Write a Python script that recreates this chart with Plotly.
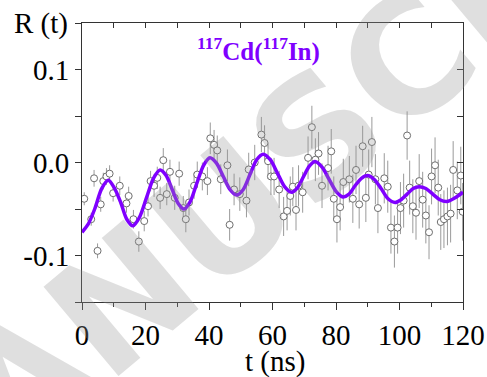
import plotly.graph_objects as go

# ---- data ----
t_data = [0.7, 2.9, 3.8, 4.9, 5.9, 6.7, 7.7, 8.7, 9.8, 11.9, 14.0, 14.7, 16.2, 17.9, 19.6,
          20.8, 21.6, 22.7, 23.7, 24.6, 25.6, 26.7, 27.7, 29.2, 30.6, 31.9, 32.7, 33.7, 35.3,
          36.3, 37.9, 39.5, 40.4, 41.6, 42.6, 43.7, 45.8, 46.5, 47.9, 49.7, 51.8, 52.5, 54.4,
          56.5, 57.5, 58.6, 59.5, 60.5, 62.1, 63.5, 64.6, 65.6, 66.4, 67.4, 68.2, 69.5, 71.2,
          72.4, 73.5, 74.5, 75.6, 77.5, 78.5, 79.3, 80.3, 81.3, 82.3, 84.2, 85.3, 86.3, 87.3,
          88.4, 89.4, 90.3, 91.3, 92.4, 93.2, 95.2, 96.3, 97.3, 98.4, 99.4, 100.3, 101.3, 102.4,
          103.2, 104.2, 105.2, 106.2, 107.3, 108.3, 109.3, 110.1, 111.2, 112.2, 113.0, 114.0,
          115.1, 116.1, 116.9, 118.2, 119.3, 119.9]
r_data = [-0.039, -0.061, -0.017, -0.095, -0.045, -0.020, -0.015, -0.012, -0.033, -0.025, -0.044,
          -0.036, -0.061, -0.085, -0.063, -0.047, -0.020, -0.025, -0.0165, -0.038, 0.0025, -0.034,
          -0.010, -0.038, -0.012, -0.049, -0.061, -0.043, -0.025, -0.013, -0.015, -0.020, 0.026,
          0.019, 0.013, -0.018, -0.003, -0.067, -0.029, -0.034, -0.041, -0.0075, 0.0, 0.030,
          0.021, 0.0014, -0.015, -0.015, -0.029, -0.058, -0.052, -0.036, -0.026, -0.051, -0.025,
          -0.032, 0.005, 0.038, 0.003, 0.0097, -0.025, -0.006, 0.012, -0.039, -0.061, -0.048,
          -0.021, -0.018, -0.039, -0.008, -0.045, 0.0175, -0.038, -0.013, 0.022, -0.018, -0.049,
          -0.017, -0.026, -0.070, -0.085, -0.070, -0.049, -0.041, 0.029, -0.027, -0.047, -0.054,
          -0.020, -0.040, -0.057, -0.075, -0.015, -0.003, -0.027, -0.064, -0.061, -0.058, -0.055,
          -0.008, -0.030, -0.014, -0.053]
e_data = [0.007, 0.007, 0.009, 0.008, 0.008, 0.009, 0.009, 0.009, 0.009, 0.010, 0.010,
          0.010, 0.010, 0.011, 0.011, 0.011, 0.011, 0.012, 0.012, 0.012, 0.013, 0.012,
          0.013, 0.013, 0.013, 0.013, 0.014, 0.014, 0.014, 0.014, 0.015, 0.015, 0.017,
          0.016, 0.016, 0.016, 0.017, 0.017, 0.017, 0.018, 0.018, 0.018, 0.019, 0.019,
          0.019, 0.019, 0.020, 0.020, 0.020, 0.021, 0.021, 0.021, 0.021, 0.022, 0.022,
          0.022, 0.023, 0.023, 0.023, 0.023, 0.024, 0.024, 0.024, 0.024, 0.025, 0.025,
          0.025, 0.025, 0.026, 0.026, 0.026, 0.022, 0.026, 0.027, 0.027, 0.027, 0.027,
          0.027, 0.028, 0.028, 0.028, 0.028, 0.028, 0.029, 0.026, 0.029, 0.029, 0.029,
          0.029, 0.030, 0.030, 0.029, 0.030, 0.030, 0.030, 0.030, 0.031, 0.031, 0.031,
          0.031, 0.031, 0.031, 0.031]

t_fit = [0, 2, 4, 6.2, 8.3, 10.3, 12.2, 14.1, 16, 18.1, 20.3, 22.5, 24.6, 26.5, 28.4, 30.3,
         32.1, 34.1, 36.2, 38.3, 40.3, 42.4, 44.5, 46.6, 48.7, 50.8, 52.9, 55, 57.1, 59.3,
         61.5, 63.8, 66, 67.9, 69.8, 71.6, 73.4, 75.6, 77.8, 80, 82.2, 84.1, 86, 88, 89.9,
         92, 94.2, 96.4, 98.6, 100.5, 102.4, 104.3, 106.2, 108.3, 110.5, 112.7, 114.9,
         117.5, 120]
r_fit = [-0.075, -0.066, -0.050, -0.028, -0.019, -0.028, -0.043, -0.061, -0.068, -0.059,
         -0.038, -0.017, -0.008, -0.014, -0.029, -0.044, -0.050, -0.042, -0.022, -0.003,
         0.005, -0.001, -0.015, -0.029, -0.035, -0.029, -0.013, 0.003, 0.009, 0.003,
         -0.011, -0.026, -0.032, -0.027, -0.015, -0.004, 0.001, -0.005, -0.018, -0.031,
         -0.037, -0.034, -0.025, -0.017, -0.014, -0.018, -0.028, -0.039, -0.043, -0.040,
         -0.034, -0.028, -0.026, -0.028, -0.034, -0.040, -0.042, -0.038, -0.032]

y_tickvals = [-0.1, 0.0, 0.1]
y_ticktext = ["-0.1", "0.0", "0.1"]
x_tickvals = [0, 20, 40, 60, 80, 100, 120]

PURPLE = "#7F00FF"
FONT = "Liberation Serif, Times New Roman, serif"

fig = go.Figure()
fig.add_trace(go.Scatter(
    x=t_data, y=r_data, mode="markers",
    marker=dict(symbol="circle", size=7, color="white",
                line=dict(color="#6e6e6e", width=1)),
    error_y=dict(type="data", array=e_data, color="#9a9a9a", thickness=1, width=0),
    showlegend=False, cliponaxis=True))
fig.add_trace(go.Scatter(
    x=t_fit, y=r_fit, mode="lines",
    line=dict(color=PURPLE, width=3.5, shape="spline", smoothing=0.8),
    showlegend=False))
# dummy trace to attach the mirrored top/right axes
fig.add_trace(go.Scatter(x=[None], y=[None], xaxis="x2", yaxis="y2", showlegend=False,
                         hoverinfo="skip"))

axis_common = dict(showgrid=False, zeroline=False, showline=True, linecolor="#333333",
                   linewidth=1, tickcolor="#333333", automargin=False)

fig.update_layout(
    template="none",
    width=487, height=377, autosize=False,
    margin=dict(l=82, r=24, t=23, b=75, autoexpand=False),
    paper_bgcolor="white", plot_bgcolor="white",
    font=dict(family=FONT, color="black", size=29),
    xaxis=dict(range=[0, 120], tickvals=x_tickvals, ticks="outside", ticklen=7,
               tickfont=dict(size=29, family=FONT),
               minor=dict(dtick=10, ticks="outside", ticklen=4, tickcolor="#333333"),
               **axis_common),
    yaxis=dict(range=[-0.15, 0.15], tickvals=y_tickvals, ticktext=y_ticktext, ticks="outside",
               ticklen=6, tickfont=dict(size=29, family=FONT),
               minor=dict(tickvals=[-0.15, -0.05, 0.05, 0.15], ticks="outside", ticklen=6,
                          tickcolor="#333333"),
               **axis_common),
    xaxis2=dict(range=[0, 120], overlaying="x", side="top", tickvals=list(range(0, 121, 10)),
                ticks="inside", ticklen=5, showticklabels=False, **axis_common),
    yaxis2=dict(range=[-0.15, 0.15], overlaying="y", side="right",
                tickvals=[-0.15, -0.1, -0.05, 0.0, 0.05, 0.1, 0.15],
                ticks="inside", ticklen=6, showticklabels=False, **axis_common),
)

annotations = [
    dict(text="R (t)", xref="paper", yref="paper", x=-0.108, y=1.0, xanchor="center",
         yanchor="middle", showarrow=False, font=dict(size=29, family=FONT, color="black")),
    dict(text="t (ns)", xref="paper", yref="paper", x=0.507, y=-0.215, xanchor="center",
         yanchor="middle", showarrow=False, font=dict(size=29, family=FONT, color="black")),
    dict(text="<b><sup>117</sup>Cd(<sup>117</sup>In)</b>", xref="paper", yref="paper",
         x=0.462, y=0.905, xanchor="center", yanchor="middle", showarrow=False,
         font=dict(size=25, family=FONT, color=PURPLE)),
    dict(text="<b>MANUSCRIPT</b>", xref="paper", yref="paper", x=0.60, y=0.57,
         xanchor="center", yanchor="middle", showarrow=False, textangle=-40,
         font=dict(size=160, family="DejaVu Sans", color="rgba(150,150,150,0.30)")),
]
fig.update_layout(annotations=annotations)

fig.write_html("out.html", config={"displayModeBar": False},
               post_script="document.body.style.margin='0';document.body.style.overflow='hidden';")
